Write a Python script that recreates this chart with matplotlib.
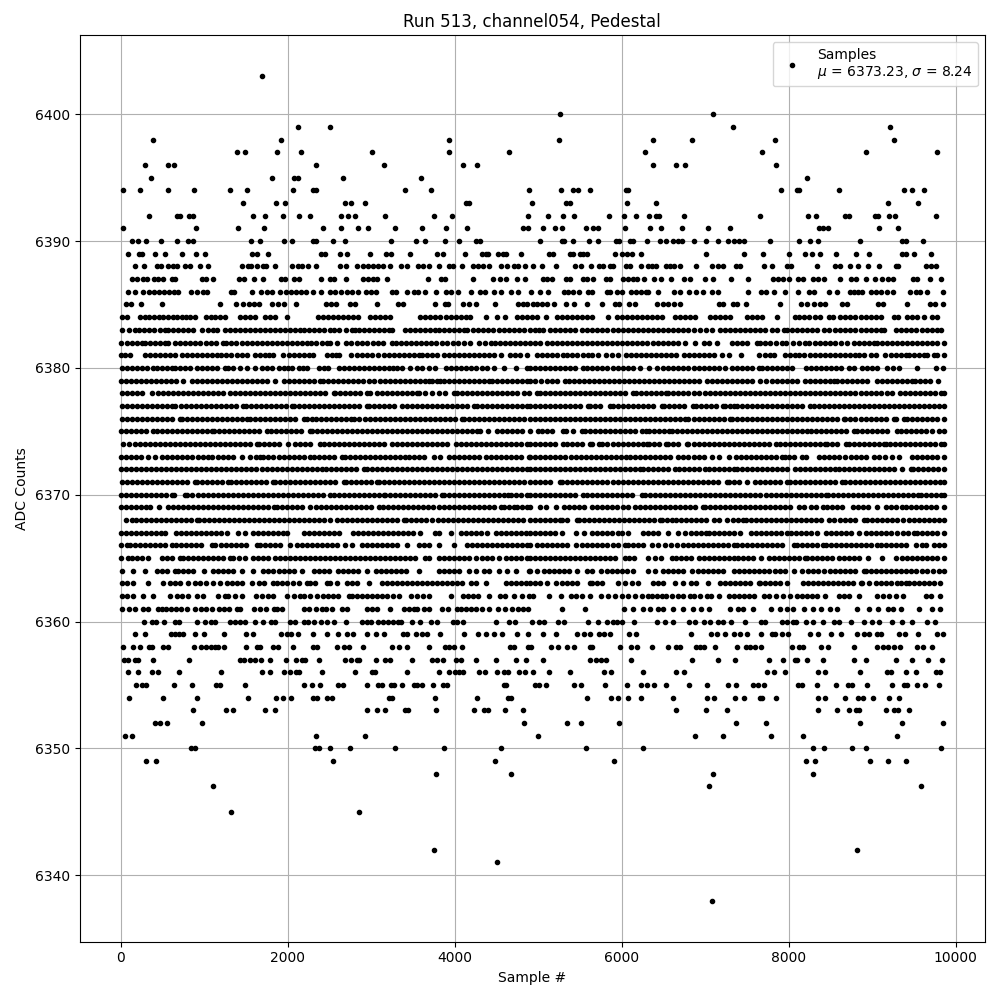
import numpy as np
import matplotlib
matplotlib.use("Agg")
import matplotlib.pyplot as plt

# sample numbers, one list per ADC level
x_6403 = [1693]
x_6400 = [5263, 7096]
x_6399 = [2124, 2508, 7336, 9217]
x_6398 = [387, 1916, 3933, 5251, 6377, 6845, 7839, 9264]
x_6397 = [1394, 1490, 1873, 2160, 3011, 3933, 4652, 6282, 7683, 8929, 9779]
x_6396 = [291, 567, 639, 2340, 3154, 4101, 4268, 6377, 6653, 6761, 7851]
x_6395 = [363, 1813, 2076, 2128, 2663, 3598, 8222]
x_6394 = [28, 232, 567, 878, 1310, 1513, 2064, 2304, 2336, 3406, 3717, 4887, 5275, 5419, 5479, 5623, 6054, 6078, 7911,
          8102, 8126, 8606, 9384, 9480, 9624]
x_6393 = [1465, 1861, 1968, 2687, 2759, 2927, 4141, 4173, 4920, 5335, 5383, 6066, 6413, 9193, 9552]
x_6392 = [339, 675, 711, 818, 866, 1585, 1729, 1945, 2136, 2268, 2639, 2723, 2807, 3166, 3753, 3969, 4880, 5120, 5299,
          5431, 5850, 6030, 6174, 6330, 6413, 6449, 6749, 7659, 8234, 8330, 8677, 8725, 9037, 9073, 9204, 9276, 9767]
x_6391 = [28, 902, 1405, 1717, 2424, 2639, 2843, 2963, 3286, 3610, 3897, 4148, 4819, 4880, 5060, 5203, 5287, 5575, 5659,
          5719, 6042, 6341, 6473, 6725, 7036, 7300, 8366, 8414, 8474, 9085, 9312]
x_6390 = [136, 208, 303, 483, 675, 806, 866, 1561, 1669, 1956, 2052, 2304, 2336, 2543, 2687, 3238, 3538, 3646, 3885,
          4053, 4256, 4304, 5024, 5287, 5311, 5419, 5611, 5719, 5934, 5970, 6102, 6138, 6306, 6461, 6533, 6617, 6677,
          6725, 6869, 7012, 7156, 7276, 7348, 7408, 7468, 7779, 8126, 8258, 8354, 8857, 9360, 9408, 9612]
x_6389 = [88, 220, 255, 411, 531, 735, 902, 1010, 1573, 1633, 1765, 2400, 2448, 2627, 2711, 2987, 3174, 3238, 3466, 3789,
          3861, 4125, 4328, 4376, 4400, 4520, 4580, 4616, 4795, 5132, 5180, 5379, 5419, 5503, 5539, 5587, 5922, 6006,
          6066, 6126, 6234, 7012, 7468, 7695, 8007, 8198, 8282, 8378, 8570, 8809, 8965, 9360, 9408, 9504, 9708]
x_6388 = [172, 279, 435, 483, 567, 627, 675, 771, 830, 950, 1046, 1453, 1525, 1561, 1633, 1705, 1741, 1849, 2052, 2124,
          2172, 2244, 2340, 2627, 2699, 2831, 2903, 2963, 3023, 3083, 3142, 3226, 3358, 3430, 3562, 3622, 3694, 3813,
          3933, 3981, 4089, 4220, 4280, 4340, 4412, 4556, 4628, 4712, 4760, 4843, 4932, 5048, 5215, 5443, 5515, 5635,
          5731, 5778, 5862, 5898, 6054, 6102, 6234, 6317, 6365, 6413, 6533, 6581, 6629, 6701, 6893, 7084, 7156, 7216,
          7372, 7420, 7707, 7803, 7983, 8030, 8342, 8558, 8618, 8737, 8833, 8953, 9085, 9288, 9312, 9648, 9708, 9767]
x_6387 = [136, 196, 267, 315, 399, 447, 507, 615, 651, 974, 1022, 1106, 1417, 1477, 1597, 1705, 1920, 1968, 2076, 2136,
          2400, 2507, 2555, 2699, 2903, 2963, 3023, 3070, 3190, 3681, 3837, 3885, 4220, 4460, 4544, 4616, 4748, 4843,
          5060, 5108, 5168, 5335, 5383, 5539, 5587, 5659, 5814, 5862, 6018, 6078, 6138, 6186, 6270, 6389, 6473, 6593,
          6749, 6821, 7000, 7096, 7312, 7515, 7815, 7875, 7935, 8007, 8114, 8174, 8294, 8354, 8426, 8617, 8749, 8809,
          8929, 9037, 9121, 9192, 9252, 9492, 9540, 9696, 9827]
x_6386 = [88, 172, 267, 339, 400, 455, 515, 575, 640, 687, 842, 914, 986, 1034, 1321, 1357, 1573, 1681, 1753, 1813,
          1908, 1980, 2040, 2100, 2160, 2220, 2304, 2400, 2507, 2570, 2640, 2710, 2775, 2843, 2939, 3000, 3060, 3250,
          3298, 3430, 3514, 3562, 3646, 3777, 3897, 3957, 4040, 4196, 4304, 4364, 4472, 4556, 4676, 4760, 4916, 5024,
          5120, 5311, 5359, 5419, 5491, 5599, 5647, 5826, 5862, 5946, 6006, 6114, 6170, 6230, 6290, 6317, 6437, 6629,
          6701, 6809, 6893, 6976, 7084, 7156, 7515, 7671, 7731, 7827, 7959, 8114, 8246, 8306, 8486, 8582, 8737, 8785,
          8833, 8881, 8989, 9050, 9110, 9180, 9252, 9456, 9520, 9570, 9660, 9850]
x_6385 = [64, 124, 243, 495, 1190, 1381, 1465, 1537, 1600, 1657, 1813, 1885, 1956, 2100, 2460, 2520, 2580, 2747, 2807,
          3070, 3322, 3382, 3765, 3885, 3921, 4100, 4170, 4260, 4484, 4760, 4820, 4868, 4940, 4990, 5040, 5100, 5190,
          5335, 5431, 5587, 5766, 5922, 5970, 6090, 6160, 6425, 6490, 6560, 6630, 6700, 7168, 7216, 7336, 7384, 7491,
          7899, 8150, 8222, 8306, 8378, 8438, 8641, 8701, 9073, 9133, 9412, 9696, 9756, 9851]
x_6384 = [20, 70, 230, 290, 345, 400, 455, 510, 570, 625, 680, 730, 780, 830, 890, 1020, 1080, 1135, 1190, 1250, 1430,
          1490, 1550, 1610, 1730, 1790, 1850, 1990, 2360, 2420, 2480, 2540, 2600, 2660, 2720, 2780, 2840, 2990, 3050,
          3110, 3170, 3220, 3590, 3650, 3710, 3770, 3830, 3890, 3950, 4010, 4070, 4130, 4180, 4380, 4510, 4600, 4750,
          4810, 4870, 4920, 4980, 5090, 5220, 5280, 5340, 5400, 5460, 5520, 5590, 5640, 5840, 5940, 6000, 6060, 6120,
          6180, 6240, 6300, 6360, 6420, 6480, 6640, 6700, 6760, 6820, 6880, 7060, 7120, 7180, 7240, 7300, 7500, 7560,
          7620, 7680, 7860, 8070, 8120, 8180, 8240, 8320, 8380, 8480, 8530, 8620, 8680, 8740, 8800, 8860, 8920, 8980,
          9040, 9100, 9260, 9310, 9420, 9480, 9540, 9620, 9720, 9780]
x_6383 = [10, 98, 170, 225, 285, 340, 400, 470, 530, 570, 630, 690, 750, 810, 870, 970, 1050, 1100, 1150, 1250, 1310,
          1370, 1430, 1490, 1550, 1610, 1670, 1730, 1790, 1850, 1910, 1970, 2030, 2090, 2150, 2190, 2250, 2310, 2370,
          2430, 2510, 2560, 2610, 2700, 2770, 2810, 2850, 2910, 2970, 3030, 3090, 3150, 3210, 3250, 3410, 3470, 3530,
          3590, 3650, 3710, 3770, 3810, 3870, 3930, 3990, 4050, 4110, 4150, 4220, 4280, 4340, 4400, 4460, 4530, 4590,
          4650, 4710, 4770, 4830, 4900, 4960, 5010, 5060, 5140, 5200, 5260, 5320, 5380, 5440, 5520, 5580, 5640, 5700,
          5760, 5820, 5890, 5960, 6020, 6080, 6140, 6200, 6260, 6320, 6380, 6440, 6500, 6560, 6620, 6680, 6740, 6800,
          6860, 6940, 7010, 7080, 7180, 7240, 7300, 7360, 7420, 7480, 7540, 7600, 7660, 7720, 7800, 7860, 7940, 7980,
          8040, 8100, 8160, 8220, 8280, 8340, 8420, 8480, 8560, 8620, 8680, 8740, 8800, 8860, 8920, 8980, 9040, 9100,
          9140, 9280, 9340, 9400, 9460, 9520, 9600, 9660, 9720, 9780, 9820]
x_6382 = [0, 70, 130, 190, 250, 290, 350, 410, 470, 530, 570, 650, 710, 770, 830, 890, 950, 1020, 1080, 1140, 1230, 1260,
          1320, 1380, 1450, 1510, 1570, 1630, 1690, 1750, 1810, 1870, 1930, 1990, 2050, 2110, 2170, 2230, 2280, 2340,
          2410, 2470, 2510, 2590, 2700, 2760, 2830, 2890, 2950, 3020, 3080, 3140, 3250, 3300, 3360, 3420, 3480, 3540,
          3600, 3660, 3720, 3780, 3850, 3910, 3980, 4040, 4110, 4180, 4290, 4360, 4430, 4480, 4540, 4600, 4660, 4720,
          4780, 4840, 4900, 4960, 5020, 5100, 5160, 5220, 5280, 5340, 5400, 5460, 5520, 5580, 5640, 5700, 5760, 5820,
          5880, 5940, 6000, 6060, 6120, 6180, 6240, 6300, 6380, 6440, 6490, 6560, 6620, 6680, 6760, 6880, 6980, 7040,
          7140, 7320, 7380, 7440, 7500, 7620, 7660, 7720, 7780, 7850, 7920, 7970, 8050, 8120, 8200, 8240, 8310, 8380,
          8440, 8500, 8560, 8630, 8700, 8780, 8840, 8900, 8960, 9020, 9060, 9120, 9180, 9240, 9300, 9360, 9420, 9480,
          9540, 9600, 9660, 9720, 9780, 9858]
x_6381 = [0, 55, 110, 290, 350, 410, 470, 530, 590, 650, 730, 790, 850, 910, 970, 1030, 1090, 1150, 1200, 1260, 1320,
          1390, 1450, 1510, 1610, 1670, 1730, 1780, 1830, 1940, 2020, 2080, 2140, 2200, 2250, 2300, 2470, 2530, 2580,
          2620, 2760, 2830, 2890, 2950, 3010, 3080, 3150, 3210, 3270, 3330, 3390, 3450, 3510, 3570, 3610, 3670, 3730,
          3790, 3870, 3930, 3990, 4050, 4110, 4170, 4230, 4290, 4350, 4410, 4470, 4550, 4660, 4720, 4780, 4870, 4980,
          5040, 5100, 5160, 5230, 5300, 5350, 5410, 5470, 5540, 5600, 5650, 5720, 5810, 5880, 5950, 6050, 6110, 6170,
          6230, 6290, 6350, 6410, 6470, 6530, 6590, 6650, 6750, 6810, 6870, 6930, 6990, 7050, 7110, 7200, 7280, 7430,
          7640, 7720, 7780, 7820, 7960, 8020, 8080, 8120, 8180, 8250, 8320, 8380, 8440, 8500, 8560, 8620, 8680, 8740,
          8800, 8840, 8900, 8980, 9050, 9150, 9220, 9280, 9340, 9400, 9440, 9500, 9560, 9620, 9660, 9740, 9780, 9858]
x_6380 = [10, 70, 130, 190, 250, 310, 390, 430, 490, 550, 610, 650, 710, 770, 830, 910, 970, 1030, 1090, 1150, 1250,
          1290, 1350, 1430, 1510, 1610, 1690, 1750, 1810, 1890, 1950, 2000, 2050, 2130, 2180, 2230, 2370, 2430, 2480,
          2610, 2670, 2730, 2790, 2850, 2910, 2970, 3030, 3090, 3150, 3210, 3260, 3310, 3370, 3470, 3550, 3610, 3690,
          3770, 3900, 3960, 4020, 4080, 4140, 4200, 4260, 4330, 4390, 4470, 4590, 4740, 4870, 4900, 4960, 5020, 5080,
          5140, 5200, 5260, 5320, 5380, 5440, 5540, 5580, 5640, 5700, 5760, 5820, 5900, 5960, 6020, 6080, 6140, 6220,
          6330, 6420, 6500, 6560, 6620, 6680, 6740, 6800, 6860, 6920, 6980, 7040, 7110, 7160, 7240, 7320, 7380, 7440,
          7500, 7560, 7640, 7680, 7740, 7800, 7860, 7920, 7980, 8040, 8210, 8270, 8330, 8390, 8450, 8510, 8570, 8630,
          8720, 8780, 8880, 8940, 9000, 9060, 9180, 9250, 9320, 9540, 9760, 9850]
x_6379 = [0, 60, 120, 180, 240, 300, 360, 420, 480, 540, 600, 660, 750, 850, 910, 970, 1030, 1090, 1150, 1210, 1270,
          1330, 1390, 1450, 1510, 1570, 1630, 1690, 1750, 1850, 1950, 2010, 2070, 2130, 2190, 2250, 2310, 2390, 2420,
          2480, 2540, 2600, 2660, 2720, 2780, 2840, 2900, 2970, 3030, 3100, 3160, 3220, 3280, 3340, 3400, 3460, 3520,
          3580, 3640, 3690, 3730, 3790, 3830, 3870, 3930, 3990, 4050, 4110, 4170, 4230, 4290, 4350, 4410, 4450, 4510,
          4570, 4630, 4690, 4750, 4810, 4870, 4900, 4960, 5030, 5100, 5160, 5230, 5320, 5370, 5430, 5490, 5550, 5610,
          5670, 5730, 5790, 5850, 5910, 5970, 6030, 6090, 6150, 6210, 6270, 6330, 6390, 6450, 6510, 6570, 6630, 6690,
          6750, 6810, 6870, 6930, 7020, 7080, 7140, 7200, 7260, 7320, 7380, 7440, 7500, 7560, 7660, 7730, 7800, 7860,
          7920, 7980, 8040, 8100, 8200, 8250, 8310, 8370, 8430, 8490, 8540, 8580, 8640, 8700, 8760, 8820, 8880, 8940,
          9060, 9120, 9180, 9240, 9300, 9360, 9420, 9480, 9510, 9570, 9630, 9690, 9790]
x_6378 = [20, 80, 140, 200, 250, 370, 450, 510, 570, 630, 690, 750, 810, 870, 930, 990, 1050, 1110, 1170, 1230, 1310,
          1370, 1430, 1490, 1550, 1610, 1670, 1730, 1790, 1850, 1910, 1970, 2030, 2090, 2150, 2210, 2270, 2330, 2390,
          2450, 2550, 2570, 2630, 2690, 2750, 2810, 2870, 2950, 2990, 3070, 3130, 3190, 3250, 3310, 3370, 3430, 3490,
          3550, 3570, 3650, 3730, 3810, 3880, 3990, 4030, 4090, 4150, 4210, 4270, 4330, 4390, 4450, 4510, 4570, 4630,
          4690, 4750, 4830, 4890, 4980, 5020, 5080, 5140, 5200, 5260, 5320, 5380, 5440, 5500, 5560, 5620, 5680, 5740,
          5800, 5860, 5920, 5980, 6040, 6140, 6170, 6230, 6290, 6350, 6410, 6470, 6530, 6560, 6620, 6680, 6740, 6800,
          6860, 6930, 7000, 7060, 7120, 7180, 7240, 7300, 7360, 7420, 7480, 7540, 7600, 7660, 7720, 7780, 7840, 7900,
          7960, 8020, 8080, 8140, 8200, 8260, 8320, 8380, 8440, 8500, 8560, 8620, 8680, 8740, 8800, 8860, 8920, 8980,
          9040, 9100, 9180, 9240, 9330, 9390, 9450, 9510, 9570, 9630, 9690, 9750, 9820, 9858]
x_6377 = [10, 70, 130, 190, 250, 310, 370, 430, 490, 550, 610, 650, 720, 780, 840, 900, 960, 1020, 1080, 1140, 1200,
          1260, 1320, 1380, 1470, 1500, 1560, 1620, 1680, 1740, 1800, 1860, 1920, 1980, 2050, 2070, 2130, 2190, 2250,
          2310, 2370, 2430, 2490, 2550, 2610, 2670, 2730, 2790, 2850, 2950, 2970, 3030, 3090, 3150, 3210, 3270, 3370,
          3430, 3490, 3550, 3610, 3670, 3730, 3790, 3850, 3910, 3970, 4030, 4090, 4150, 4230, 4270, 4330, 4390, 4450,
          4510, 4570, 4630, 4690, 4750, 4810, 4870, 4900, 4960, 5020, 5080, 5140, 5200, 5260, 5320, 5380, 5440, 5500,
          5600, 5620, 5680, 5740, 5860, 5900, 5960, 6020, 6080, 6140, 6200, 6260, 6320, 6380, 6480, 6510, 6570, 6630,
          6690, 6750, 6850, 6890, 6950, 7010, 7070, 7130, 7210, 7240, 7300, 7340, 7380, 7440, 7500, 7560, 7620, 7680,
          7740, 7800, 7860, 7920, 7980, 8040, 8100, 8160, 8260, 8300, 8360, 8420, 8480, 8540, 8600, 8660, 8720, 8780,
          8840, 8900, 8960, 9020, 9080, 9140, 9200, 9260, 9320, 9380, 9440, 9500, 9560, 9620, 9680, 9740, 9800, 9858]
x_6376 = [20, 80, 140, 200, 260, 320, 380, 440, 500, 560, 620, 710, 730, 790, 850, 910, 970, 1030, 1090, 1150, 1210,
          1270, 1330, 1390, 1450, 1510, 1550, 1610, 1670, 1730, 1790, 1850, 1910, 1970, 2030, 2090, 2190, 2230, 2290,
          2340, 2400, 2460, 2520, 2580, 2640, 2700, 2760, 2800, 2860, 2920, 2980, 3040, 3100, 3160, 3220, 3280, 3340,
          3400, 3460, 3520, 3580, 3640, 3700, 3760, 3820, 3880, 3940, 4000, 4090, 4110, 4170, 4230, 4290, 4350, 4410,
          4470, 4530, 4590, 4650, 4710, 4770, 4830, 4900, 4960, 5020, 5080, 5140, 5200, 5260, 5320, 5380, 5440, 5500,
          5560, 5620, 5680, 5740, 5800, 5860, 5920, 5980, 6040, 6100, 6160, 6220, 6280, 6340, 6400, 6460, 6520, 6580,
          6640, 6700, 6760, 6800, 6860, 6920, 6980, 7040, 7100, 7160, 7220, 7300, 7320, 7380, 7440, 7500, 7560, 7620,
          7680, 7740, 7800, 7860, 7920, 7980, 8040, 8100, 8160, 8220, 8280, 8340, 8400, 8460, 8520, 8580, 8660, 8680,
          8740, 8800, 8860, 8920, 8980, 9040, 9100, 9160, 9260, 9290, 9380, 9420, 9480, 9540, 9600, 9660, 9720, 9780,
          9858]
x_6375 = [0, 60, 120, 180, 240, 300, 390, 430, 490, 550, 610, 670, 730, 790, 850, 910, 970, 1030, 1090, 1120, 1180,
          1240, 1300, 1360, 1420, 1480, 1540, 1600, 1660, 1750, 1800, 1860, 1920, 1980, 2040, 2100, 2160, 2270, 2290,
          2350, 2410, 2470, 2530, 2590, 2650, 2710, 2770, 2830, 2890, 2950, 3010, 3070, 3130, 3190, 3250, 3310, 3370,
          3430, 3490, 3550, 3610, 3670, 3730, 3790, 3850, 3910, 3970, 4030, 4090, 4150, 4210, 4270, 4300, 4400, 4510,
          4570, 4630, 4690, 4750, 4810, 4900, 5000, 5050, 5110, 5170, 5300, 5330, 5420, 5520, 5560, 5620, 5680, 5740,
          5800, 5860, 5920, 5980, 6040, 6100, 6160, 6240, 6290, 6330, 6390, 6450, 6510, 6570, 6600, 6660, 6720, 6780,
          6840, 6900, 6960, 7020, 7080, 7140, 7200, 7260, 7320, 7380, 7440, 7500, 7560, 7620, 7680, 7740, 7800, 7860,
          7920, 7980, 8040, 8100, 8160, 8220, 8270, 8330, 8390, 8450, 8510, 8570, 8630, 8690, 8780, 8820, 8880, 8940,
          9000, 9060, 9120, 9180, 9300, 9340, 9400, 9460, 9520, 9580, 9640, 9720, 9800, 9858]
x_6374 = [30, 100, 170, 230, 290, 350, 410, 470, 530, 590, 650, 710, 770, 830, 890, 950, 1010, 1070, 1130, 1190, 1250,
          1310, 1370, 1430, 1490, 1550, 1630, 1660, 1720, 1780, 1840, 1900, 2000, 2090, 2150, 2210, 2270, 2390, 2430,
          2490, 2550, 2610, 2670, 2730, 2790, 2850, 2910, 2970, 3030, 3090, 3150, 3250, 3310, 3370, 3430, 3490, 3550,
          3610, 3670, 3730, 3790, 3850, 3910, 4010, 4080, 4140, 4200, 4260, 4320, 4380, 4440, 4500, 4560, 4620, 4680,
          4740, 4800, 4860, 4900, 4960, 5020, 5080, 5140, 5200, 5300, 5350, 5410, 5470, 5530, 5620, 5650, 5730, 5770,
          5830, 5890, 5950, 6010, 6070, 6130, 6190, 6250, 6300, 6330, 6390, 6450, 6530, 6560, 6620, 6680, 6780, 6800,
          6860, 6920, 6980, 7040, 7100, 7160, 7220, 7280, 7340, 7400, 7460, 7520, 7580, 7640, 7700, 7760, 7850, 7890,
          7950, 8010, 8070, 8130, 8190, 8250, 8310, 8370, 8440, 8460, 8520, 8580, 8690, 8720, 8780, 8840, 8900, 8960,
          9020, 9080, 9140, 9170, 9210, 9270, 9330, 9390, 9450, 9510, 9570, 9630, 9690, 9750, 9820, 9858]
x_6373 = [0, 60, 120, 180, 240, 330, 410, 500, 560, 620, 680, 740, 800, 860, 920, 980, 1040, 1090, 1170, 1230, 1290,
          1350, 1450, 1550, 1620, 1670, 1710, 1770, 1830, 1890, 1950, 2010, 2070, 2130, 2190, 2270, 2310, 2370, 2430,
          2490, 2550, 2650, 2690, 2750, 2810, 2870, 2930, 2990, 3050, 3110, 3170, 3230, 3290, 3350, 3410, 3450, 3510,
          3570, 3630, 3750, 3820, 3930, 3990, 4050, 4110, 4170, 4230, 4290, 4370, 4430, 4490, 4550, 4610, 4670, 4730,
          4790, 4890, 4900, 4960, 5020, 5080, 5140, 5200, 5260, 5320, 5390, 5450, 5510, 5570, 5630, 5690, 5750, 5810,
          5870, 5930, 5990, 6050, 6100, 6160, 6220, 6280, 6340, 6400, 6460, 6520, 6580, 6680, 6740, 6800, 6860, 6920,
          6980, 7080, 7160, 7290, 7370, 7430, 7490, 7550, 7610, 7670, 7730, 7790, 7850, 7920, 7960, 8000, 8060, 8160,
          8210, 8360, 8420, 8480, 8540, 8600, 8680, 8750, 8810, 8870, 8930, 9020, 9080, 9150, 9240, 9320, 9480, 9540,
          9600, 9660, 9720, 9780, 9858]
x_6372 = [0, 60, 120, 180, 240, 300, 360, 420, 480, 540, 600, 660, 720, 780, 840, 900, 960, 1020, 1080, 1140, 1200,
          1260, 1320, 1380, 1440, 1500, 1560, 1620, 1690, 1750, 1810, 1870, 1930, 1990, 2050, 2110, 2170, 2230, 2290,
          2350, 2410, 2460, 2520, 2580, 2640, 2700, 2760, 2820, 2910, 2950, 3010, 3070, 3130, 3190, 3250, 3310, 3370,
          3430, 3490, 3550, 3610, 3670, 3730, 3790, 3850, 3910, 3970, 4030, 4090, 4150, 4210, 4270, 4330, 4390, 4450,
          4510, 4570, 4630, 4690, 4750, 4810, 4870, 4900, 4960, 5020, 5080, 5140, 5200, 5260, 5320, 5380, 5440, 5500,
          5560, 5620, 5680, 5740, 5800, 5860, 5920, 5980, 6040, 6100, 6160, 6220, 6260, 6320, 6380, 6440, 6500, 6560,
          6640, 6690, 6750, 6810, 6870, 6930, 7000, 7050, 7110, 7170, 7230, 7290, 7350, 7380, 7440, 7500, 7560, 7620,
          7680, 7740, 7800, 7860, 7920, 7980, 8080, 8140, 8200, 8260, 8320, 8380, 8440, 8500, 8560, 8600, 8660, 8720,
          8780, 8840, 8900, 8960, 9020, 9080, 9140, 9200, 9260, 9360, 9460, 9490, 9550, 9610, 9670, 9730, 9790, 9858]
x_6371 = [20, 80, 140, 200, 260, 320, 380, 440, 500, 560, 620, 680, 740, 800, 890, 910, 970, 1030, 1090, 1150, 1210,
          1280, 1320, 1380, 1440, 1500, 1560, 1620, 1680, 1740, 1830, 1850, 1910, 1970, 2030, 2090, 2150, 2210, 2270,
          2330, 2390, 2450, 2510, 2570, 2670, 2700, 2760, 2820, 2880, 2940, 3000, 3070, 3090, 3150, 3210, 3270, 3330,
          3390, 3450, 3510, 3570, 3630, 3690, 3750, 3810, 3870, 3930, 3990, 4050, 4110, 4170, 4230, 4290, 4350, 4410,
          4470, 4530, 4590, 4650, 4710, 4770, 4830, 4900, 4960, 5020, 5080, 5140, 5260, 5290, 5350, 5410, 5470, 5530,
          5590, 5650, 5710, 5770, 5830, 5890, 5950, 6010, 6070, 6130, 6190, 6250, 6310, 6370, 6430, 6490, 6550, 6610,
          6670, 6730, 6790, 6850, 6910, 6970, 7030, 7090, 7150, 7260, 7280, 7340, 7400, 7500, 7600, 7660, 7720, 7780,
          7840, 7900, 7980, 8010, 8070, 8130, 8190, 8250, 8310, 8370, 8430, 8490, 8550, 8640, 8670, 8730, 8790, 8850,
          8910, 8970, 9030, 9090, 9150, 9210, 9270, 9330, 9390, 9450, 9510, 9570, 9630, 9690, 9750, 9810, 9858]
x_6370 = [0, 60, 120, 180, 240, 300, 360, 420, 480, 540, 610, 640, 770, 800, 860, 920, 980, 1040, 1100, 1160, 1220,
          1280, 1340, 1400, 1460, 1520, 1580, 1640, 1700, 1760, 1820, 1880, 1940, 2000, 2060, 2120, 2180, 2240, 2300,
          2360, 2420, 2510, 2550, 2610, 2670, 2730, 2790, 2850, 2910, 2970, 3030, 3090, 3150, 3170, 3230, 3290, 3350,
          3410, 3470, 3530, 3590, 3650, 3710, 3770, 3850, 3870, 3930, 3990, 4050, 4110, 4170, 4230, 4290, 4350, 4410,
          4470, 4530, 4590, 4640, 4680, 4740, 4800, 4860, 4900, 4960, 5020, 5080, 5140, 5200, 5260, 5320, 5380, 5440,
          5540, 5580, 5640, 5700, 5760, 5820, 5880, 5940, 6000, 6060, 6120, 6240, 6280, 6340, 6400, 6460, 6520, 6580,
          6640, 6700, 6760, 6820, 6880, 6940, 7000, 7060, 7120, 7180, 7240, 7300, 7360, 7420, 7480, 7540, 7600, 7660,
          7730, 7790, 7850, 7910, 7970, 8030, 8090, 8150, 8210, 8270, 8330, 8390, 8450, 8470, 8530, 8590, 8650, 8710,
          8770, 8830, 8890, 8950, 9010, 9070, 9130, 9190, 9250, 9310, 9370, 9430, 9490, 9550, 9580, 9640, 9700, 9760,
          9820, 9858]
x_6369 = [0, 60, 120, 180, 240, 300, 350, 460, 570, 630, 690, 750, 810, 870, 930, 990, 1050, 1110, 1170, 1230, 1290,
          1350, 1410, 1470, 1530, 1590, 1650, 1710, 1770, 1840, 1870, 1930, 1990, 2050, 2110, 2170, 2270, 2340, 2400,
          2460, 2520, 2580, 2640, 2700, 2760, 2820, 2880, 2940, 3000, 3090, 3140, 3200, 3260, 3320, 3380, 3440, 3500,
          3560, 3620, 3680, 3740, 3810, 3870, 3930, 3990, 4050, 4110, 4170, 4230, 4290, 4350, 4410, 4470, 4550, 4590,
          4650, 4710, 4750, 4810, 4870, 4900, 5020, 5090, 5210, 5310, 5370, 5430, 5490, 5550, 5640, 5700, 5760, 5820,
          5880, 5940, 6020, 6070, 6160, 6220, 6280, 6340, 6400, 6460, 6520, 6580, 6640, 6700, 6760, 6820, 6880, 6970,
          7000, 7060, 7120, 7180, 7240, 7300, 7360, 7420, 7480, 7540, 7600, 7660, 7720, 7780, 7840, 7900, 7960, 8020,
          8120, 8180, 8270, 8330, 8410, 8460, 8520, 8580, 8640, 8770, 8830, 8890, 8950, 9060, 9160, 9220, 9280, 9360,
          9410, 9470, 9530, 9590, 9650, 9710, 9770, 9858]
x_6368 = [60, 140, 180, 240, 300, 360, 420, 480, 540, 600, 660, 720, 780, 840, 910, 940, 1000, 1060, 1120, 1180, 1240,
          1300, 1360, 1420, 1480, 1540, 1600, 1660, 1720, 1780, 1840, 1900, 1960, 2020, 2080, 2140, 2200, 2260, 2320,
          2380, 2440, 2510, 2590, 2650, 2710, 2770, 2830, 2890, 2950, 3010, 3070, 3130, 3190, 3250, 3310, 3390, 3420,
          3480, 3540, 3600, 3660, 3730, 3800, 3860, 3920, 3980, 4040, 4100, 4160, 4220, 4280, 4340, 4400, 4460, 4520,
          4580, 4640, 4700, 4760, 4820, 4900, 4960, 5020, 5080, 5140, 5200, 5260, 5290, 5350, 5460, 5490, 5550, 5610,
          5670, 5730, 5790, 5850, 5910, 5970, 6030, 6090, 6150, 6210, 6270, 6330, 6390, 6460, 6480, 6540, 6600, 6650,
          6710, 6770, 6830, 6890, 6950, 7010, 7100, 7170, 7260, 7330, 7390, 7450, 7490, 7550, 7610, 7670, 7730, 7790,
          7850, 7910, 7970, 8030, 8090, 8150, 8210, 8270, 8330, 8390, 8480, 8540, 8610, 8670, 8730, 8790, 8900, 8940,
          9000, 9060, 9120, 9180, 9240, 9300, 9370, 9440, 9500, 9560, 9620, 9680, 9740, 9800, 9858]
x_6367 = [0, 60, 120, 180, 240, 300, 360, 420, 480, 530, 660, 720, 780, 840, 900, 960, 1020, 1080, 1140, 1200, 1270,
          1400, 1490, 1580, 1640, 1700, 1760, 1820, 1880, 1940, 1990, 2190, 2250, 2310, 2370, 2430, 2490, 2550, 2620,
          2780, 2840, 2900, 2960, 3020, 3080, 3140, 3200, 3260, 3320, 3380, 3440, 3500, 3590, 3760, 3810, 3950, 4080,
          4140, 4200, 4260, 4320, 4390, 4490, 4550, 4610, 4670, 4730, 4790, 4850, 4900, 4960, 5020, 5080, 5140, 5200,
          5290, 5450, 5550, 5640, 5700, 5760, 5820, 5880, 5960, 6000, 6080, 6250, 6310, 6370, 6430, 6560, 6670, 6760,
          6830, 6890, 6950, 7010, 7050, 7110, 7170, 7230, 7290, 7350, 7420, 7550, 7610, 7670, 7730, 7790, 7850, 7910,
          7980, 8030, 8090, 8150, 8210, 8270, 8340, 8450, 8510, 8570, 8630, 8690, 8750, 8840, 8920, 8980, 9040, 9100,
          9160, 9220, 9300, 9370, 9430, 9500, 9540, 9600, 9660, 9720, 9780, 9858]
x_6366 = [0, 70, 110, 170, 230, 290, 350, 410, 470, 530, 610, 660, 720, 780, 840, 900, 960, 1090, 1130, 1200, 1260, 1320,
          1380, 1440, 1500, 1630, 1670, 1730, 1790, 1850, 1910, 2030, 2110, 2170, 2230, 2290, 2350, 2410, 2470, 2530,
          2590, 2690, 2770, 2890, 2950, 3010, 3070, 3130, 3190, 3250, 3310, 3430, 3570, 3630, 3690, 3810, 3990, 4150,
          4210, 4270, 4330, 4390, 4450, 4510, 4570, 4630, 4690, 4750, 4810, 4870, 4900, 4990, 5050, 5110, 5170, 5230,
          5290, 5350, 5450, 5530, 5590, 5650, 5710, 5770, 5830, 5890, 5950, 6040, 6070, 6130, 6190, 6250, 6360, 6430,
          6520, 6590, 6660, 6730, 6790, 6850, 6910, 6970, 7030, 7090, 7150, 7210, 7270, 7340, 7380, 7440, 7500, 7560,
          7620, 7680, 7740, 7800, 7860, 7920, 8060, 8100, 8160, 8220, 8280, 8340, 8410, 8450, 8510, 8570, 8630, 8690,
          8750, 8810, 8870, 8930, 8990, 9060, 9110, 9170, 9230, 9290, 9350, 9410, 9520, 9600, 9640, 9740, 9800, 9858]
x_6365 = [0, 90, 130, 190, 250, 330, 490, 550, 610, 710, 750, 810, 870, 930, 990, 1050, 1110, 1170, 1230, 1310, 1350,
          1420, 1490, 1580, 1650, 1710, 1770, 1850, 1910, 1970, 2030, 2090, 2150, 2210, 2270, 2330, 2390, 2450, 2510,
          2570, 2630, 2690, 2750, 2810, 2870, 2930, 2990, 3050, 3110, 3170, 3230, 3290, 3350, 3410, 3470, 3530, 3650,
          3690, 3810, 3870, 3930, 3990, 4050, 4110, 4170, 4250, 4330, 4390, 4450, 4530, 4620, 4680, 4740, 4800, 4860,
          4900, 4960, 5020, 5080, 5140, 5200, 5260, 5320, 5380, 5440, 5500, 5560, 5620, 5680, 5740, 5800, 5860, 5920,
          6040, 6090, 6150, 6310, 6400, 6470, 6600, 6650, 6710, 6770, 6830, 6930, 6980, 7040, 7100, 7160, 7220, 7280,
          7350, 7390, 7450, 7510, 7570, 7670, 7760, 7820, 7880, 7940, 8000, 8060, 8120, 8190, 8220, 8280, 8340, 8400,
          8460, 8520, 8600, 8660, 8720, 8780, 8840, 8950, 9120, 9290, 9360, 9420, 9480, 9540, 9600, 9660, 9720, 9780,
          9858]
x_6364 = [20, 150, 290, 430, 490, 550, 650, 690, 750, 810, 870, 1000, 1110, 1170, 1230, 1290, 1350, 1450, 1590, 1710,
          1770, 1830, 1890, 1950, 2010, 2070, 2170, 2310, 2370, 2430, 2490, 2600, 2660, 2720, 2780, 2840, 2950, 3060,
          3120, 3180, 3240, 3300, 3360, 3420, 3570, 3810, 3870, 3930, 3990, 4050, 4170, 4250, 4350, 4410, 4530, 4630,
          4730, 4890, 4900, 4990, 5070, 5130, 5190, 5250, 5310, 5370, 5470, 5590, 5650, 5750, 5820, 5880, 5940, 6000,
          6060, 6140, 6310, 6400, 6500, 6550, 6610, 6670, 6730, 6840, 6910, 6970, 7030, 7090, 7150, 7210, 7340, 7400,
          7460, 7530, 7590, 7650, 7710, 7770, 7830, 7890, 7950, 8060, 8160, 8230, 8290, 8350, 8420, 8490, 8550, 8610,
          8670, 8730, 8790, 8900, 8920, 8980, 9040, 9100, 9160, 9220, 9280, 9340, 9400, 9460, 9530, 9600, 9660, 9730,
          9800, 9858]
x_6363 = [10, 70, 150, 330, 510, 590, 650, 710, 810, 890, 950, 1020, 1110, 1190, 1270, 1330, 1390, 1450, 1570, 1660,
          1720, 1830, 1870, 1930, 1990, 2060, 2140, 2230, 2270, 2330, 2470, 2510, 2590, 2710, 2770, 2830, 2970, 3130,
          3190, 3250, 3310, 3370, 3430, 3490, 3550, 3610, 3670, 3730, 3790, 3850, 3910, 3970, 4030, 4090, 4190, 4250,
          4370, 4610, 4670, 4730, 4790, 4850, 4900, 4960, 5020, 5110, 5210, 5290, 5350, 5410, 5470, 5620, 5650, 5700,
          5760, 5950, 6040, 6120, 6200, 6370, 6430, 6490, 6640, 6740, 6830, 6890, 7030, 7180, 7240, 7300, 7360, 7420,
          7480, 7540, 7650, 7660, 7720, 7780, 7840, 7900, 7980, 8170, 8230, 8290, 8350, 8410, 8470, 8530, 8590, 8650,
          8710, 8770, 8860, 8880, 8960, 9040, 9100, 9160, 9220, 9300, 9340, 9400, 9440, 9500, 9560, 9620, 9680, 9740,
          9810]
x_6362 = [10, 70, 150, 270, 390, 590, 670, 740, 810, 910, 990, 1160, 1250, 1290, 1370, 1450, 1620, 1690, 1760, 1830,
          1990, 2070, 2150, 2190, 2270, 2350, 2420, 2480, 2540, 2600, 2730, 2770, 2830, 2890, 2950, 3010, 3070, 3130,
          3190, 3260, 3330, 3480, 3550, 3620, 3690, 3950, 4100, 4160, 4220, 4280, 4410, 4540, 4600, 4710, 4810, 4890,
          4940, 5130, 5270, 5390, 5450, 5520, 5620, 5750, 5840, 5920, 6000, 6080, 6160, 6240, 6320, 6360, 6420, 6480,
          6530, 6600, 6670, 6740, 6820, 6860, 6940, 7020, 7070, 7170, 7280, 7340, 7400, 7460, 7520, 7580, 7700, 7770,
          7850, 7930, 8010, 8100, 8160, 8220, 8280, 8340, 8440, 8600, 8660, 8720, 8840, 9060, 9130, 9200, 9280, 9370,
          9640, 9710, 9810]
x_6361 = [16, 100, 172, 267, 327, 447, 495, 543, 603, 660, 720, 795, 890, 962, 1022, 1094, 1178, 1238, 1298, 1393, 1429,
          1597, 1669, 1741, 1837, 1873, 1936, 2196, 2256, 2340, 2412, 2460, 2531, 2651, 2711, 2951, 3011, 3070, 3226,
          3394, 3454, 3514, 3550, 3633, 3693, 3849, 3921, 4029, 4077, 4136, 4196, 4256, 4328, 4412, 4520, 4604, 4688,
          4760, 4820, 4879, 5287, 5563, 6030, 6138, 6258, 6341, 6437, 6497, 6617, 6737, 6857, 6952, 7048, 7300, 7396,
          7456, 7575, 7791, 7899, 7983, 8054, 8186, 8294, 8390, 8498, 8582, 8821, 8965, 9073, 9192, 9252, 9348, 9564,
          9720, 9815]
x_6360 = [279, 375, 423, 519, 651, 699, 914, 1010, 1082, 1130, 1305, 1365, 1425, 1485, 1609, 1705, 1801, 1849, 2028,
          2088, 2196, 2244, 2316, 2400, 2471, 2555, 2699, 2891, 2951, 2999, 3082, 3142, 3202, 3262, 3322, 3358, 3490,
          3586, 3717, 3789, 3981, 4029, 4101, 4496, 4652, 4723, 4928, 5012, 5072, 5239, 5311, 5599, 5719, 5826, 5898,
          5946, 6006, 6150, 6425, 6521, 6617, 6809, 6881, 6988, 7060, 7156, 7216, 7312, 7479, 7671, 7719, 7923, 7983,
          8054, 8090, 8210, 8294, 8414, 8546, 8606, 8749, 8905, 9001, 9085, 9240, 9360, 9480, 9660, 9756]
x_6359 = [172, 291, 603, 651, 699, 747, 890, 998, 1238, 1501, 1585, 1920, 1992, 2040, 2124, 2304, 2471, 2603, 2711, 2783,
          2951, 3058, 3154, 3382, 3430, 3538, 3610, 3669, 3825, 4113, 4280, 4376, 4472, 4568, 4747, 4879, 5060, 5215,
          5467, 5551, 5623, 5730, 5790, 5862, 6090, 6174, 6833, 7072, 7144, 7240, 7348, 7420, 7503, 7671, 7803, 7839,
          7923, 7995, 8258, 8354, 8510, 8629, 8821, 8905, 8965, 9061, 9109, 9324, 9396, 9552, 9779, 9851]
x_6358 = [28, 148, 232, 339, 375, 507, 567, 878, 962, 1020, 1080, 1130, 1166, 1238, 1501, 1633, 1669, 1825, 1885, 2064,
          2304, 2352, 2591, 2675, 2735, 2903, 3250, 3334, 3430, 3693, 3885, 3933, 3993, 4089, 4664, 4712, 4879, 4916,
          5156, 5239, 5347, 5431, 5623, 5647, 5982, 6114, 6186, 6365, 6557, 6653, 6701, 6893, 6941, 6988, 7120, 7384,
          7491, 7539, 7599, 7671, 8043, 8126, 8174, 8390, 8474, 8785, 9061, 9133, 9192, 9264, 9336, 9540, 9612, 9720]
x_6357 = [40, 88, 172, 208, 387, 818, 1429, 1477, 1549, 1609, 1681, 1789, 1980, 2100, 2172, 2208, 2376, 2687, 2759, 2831,
          2855, 3058, 3166, 3226, 3490, 3729, 3789, 3861, 4017, 4077, 4256, 4496, 4735, 4855, 5060, 5623, 5695, 5755,
          5814, 6114, 6845, 7156, 7360, 7767, 7935, 8078, 8102, 8222, 8414, 8785, 8929, 9288, 9480, 9672, 9839]
x_6356 = [88, 208, 375, 447, 699, 1202, 1693, 1789, 1956, 2028, 2100, 2136, 2412, 2807, 3011, 3046, 3430, 3813, 3933,
          4005, 4053, 4101, 4292, 4364, 4508, 4592, 4640, 4771, 4843, 4940, 5132, 5383, 5790, 5874, 6258, 6653, 6749,
          7743, 7827, 7959, 8354, 8438, 8857, 9180, 9228, 9408, 9528, 9767, 9815]
x_6355 = [184, 255, 303, 639, 854, 1142, 1190, 1489, 2196, 2292, 2388, 2603, 2663, 2951, 3082, 3130, 3238, 3274, 3370,
          3514, 3550, 3610, 3741, 3861, 3909, 4592, 4616, 4964, 5012, 5096, 5431, 5515, 5802, 6066, 6234, 6306, 6389,
          6533, 6809, 7024, 7276, 7372, 7575, 7635, 7707, 8114, 8162, 8342, 8570, 8713, 8761, 8941, 9240, 9384, 9420,
          9540, 9636, 9803]
x_6354 = [100, 507, 914, 1525, 1861, 1945, 2040, 2304, 2352, 2471, 2531, 3214, 3250, 3765, 4268, 4640, 4676, 5587, 5874,
          5958, 6078, 6234, 6617, 7024, 7108, 7360, 7467, 7659, 7683, 7851, 8354, 8438, 8677, 8833, 8893, 9013, 9204,
          9324]
x_6353 = [866, 1262, 1345, 1729, 1849, 2951, 3070, 3166, 3406, 3442, 3777, 4232, 4352, 4400, 4604, 4819, 6653, 7012,
          7264, 8354, 8582, 8725, 8809, 8845, 9168, 9264, 9312, 9444]
x_6352 = [411, 471, 555, 974, 4831, 5347, 5515, 5970, 7372, 7731, 8857, 9360, 9851]
x_6351 = [52, 136, 2340, 2927, 5000, 6881, 7216, 7791, 8174, 9300]
x_6350 = [842, 890, 2324, 2376, 2507, 2747, 3286, 3873, 4556, 5575, 6258, 8294, 8426, 8761, 8929, 9827]
x_6349 = [303, 423, 2543, 4484, 5910, 8210, 8318, 8977, 9192, 9408]
x_6348 = [3777, 4676, 7096, 8294]
x_6347 = [1106, 7048, 9588]
x_6345 = [1322, 2855]
x_6342 = [3753, 8821]
x_6341 = [4508]
x_6338 = [7084]

levels = [6403, 6400, 6399, 6398, 6397, 6396, 6395, 6394, 6393, 6392, 6391, 6390, 6389, 6388, 6387, 6386, 6385, 6384,
          6383, 6382, 6381, 6380, 6379, 6378, 6377, 6376, 6375, 6374, 6373, 6372, 6371, 6370, 6369, 6368, 6367, 6366,
          6365, 6364, 6363, 6362, 6361, 6360, 6359, 6358, 6357, 6356, 6355, 6354, 6353, 6352, 6351, 6350, 6349, 6348,
          6347, 6345, 6342, 6341, 6338]
samples = [x_6403, x_6400, x_6399, x_6398, x_6397, x_6396, x_6395, x_6394, x_6393, x_6392, x_6391, x_6390, x_6389,
           x_6388, x_6387, x_6386, x_6385, x_6384, x_6383, x_6382, x_6381, x_6380, x_6379, x_6378, x_6377, x_6376,
           x_6375, x_6374, x_6373, x_6372, x_6371, x_6370, x_6369, x_6368, x_6367, x_6366, x_6365, x_6364, x_6363,
           x_6362, x_6361, x_6360, x_6359, x_6358, x_6357, x_6356, x_6355, x_6354, x_6353, x_6352, x_6351, x_6350,
           x_6349, x_6348, x_6347, x_6345, x_6342, x_6341, x_6338]

xs = np.concatenate([np.array(s, dtype=float) for s in samples])
ys = np.concatenate([np.full(len(s), lev, dtype=float) for s, lev in zip(samples, levels)])

fig, ax = plt.subplots(figsize=(10, 10), dpi=100)
ax.plot(xs, ys, 'k.', label='Samples\n$\\mu$ = 6373.23, $\\sigma$ = 8.24')
ax.set_title('Run 513, channel054, Pedestal')
ax.set_xlabel('Sample #')
ax.set_ylabel('ADC Counts')
ax.grid(True)
ax.legend(loc='upper right')
fig.tight_layout()
# axes top sits a little higher in the reference
fig.subplots_adjust(top=0.965)
fig.savefig('out.png')
